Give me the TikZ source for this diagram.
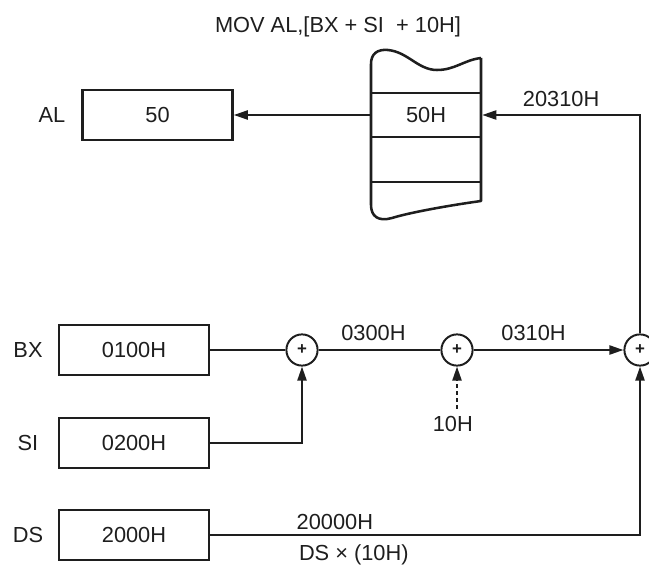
\documentclass[tikz,border=0pt]{standalone}
\usepackage{fontspec}
\setmainfont{Liberation Sans}
\usepackage{tikz}
\usetikzlibrary{arrows.meta,positioning}
\definecolor{figline}{RGB}{30,30,30}
\tikzset{
  sc/.style   ={draw=figline, line width=1.4pt},
  scb/.style  ={draw=figline, line width=1.8pt},
  lab/.style  ={font=\fontsize{15.5}{18}\selectfont, text=figline, inner sep=1pt},
  reg/.style  ={lab, scb, rectangle, minimum width=3.75cm, minimum height=1.25cm, inner sep=0pt},
  sum/.style  ={sc, circle, minimum size=0.78cm, inner sep=0pt, text=figline, font=\fontsize{12}{12}\selectfont\bfseries},
  ptr/.style  ={sc, -{Triangle[length=10pt,width=6.5pt]}},
}

\begin{document}
\begin{tikzpicture}[x=0.025cm, y=-0.025cm]
  \useasboundingbox (0,0) rectangle (649,565);
  \node[lab] (title) at (338,27) {MOV AL,[BX + SI~~+ 10H]};
  % registers
  \node[reg] (regAL) at (157.5,115) {50};
  \node[reg] (regBX) at (134,350) {0100H};
  \node[reg] (regSI) at (134,443) {0200H};
  \node[reg] (regDS) at (134,535) {2000H};
  \node[lab] (nameAL) at (52,115) {AL};
  \node[lab] (nameBX) at (28,350) {BX};
  \node[lab] (nameSI) at (28,443) {SI};
  \node[lab] (nameDS) at (28,535) {DS};
  % memory
  \node[reg, minimum width=2.75cm, minimum height=1.1cm] (cell) at (426,115) {50H};
  \draw[scb, line join=round] (481,58) -- (481,201)
    .. controls (445,206) and (408,213) .. (392,218)
    .. controls (378,222) and (371,216) .. (371,205) -- (371,64)
    .. controls (371,54) and (377,49) .. (388,50)
    .. controls (408,52) and (418,70) .. (437,70)
    .. controls (455,70) and (464,60) .. (481,58);
  \draw[scb] (371,182) -- (481,182);
  % adders
  \node[sum] (sum1) at (302,350) {+};
  \node[sum] (sum2) at (457,350) {+};
  \node[sum] (sum3) at (640,350) {+};
  \node[lab, below=1.2cm of sum2, xshift=-3pt] (ten) {10H};
  \draw[ptr] (cell.west) -- (regAL.east);
  \draw[ptr] (sum3.north) |- node[lab, pos=0.75, above=4pt] {20310H} (cell.east);
  \draw[sc] (regBX.east) -- (sum1.west);
  \draw[sc] (sum1.east) -- node[lab, pos=0.45, above=5pt] {0300H} (sum2.west);
  \draw[ptr] (sum2.east) -- node[lab, pos=0.4, above=5pt] {0310H} (sum3.west);
  \draw[ptr] (regSI.east) -| (sum1.south);
  \draw[ptr, densely dashed, shorten <=4pt] (ten.north -| sum2) -- (sum2.south);
  \draw[ptr] (regDS.east) -| node[lab, pos=0.145, above=2pt] {20000H}
    node[lab, pos=0.167, below=5pt] {DS × (10H)} (sum3.south);
\end{tikzpicture}
\end{document}
